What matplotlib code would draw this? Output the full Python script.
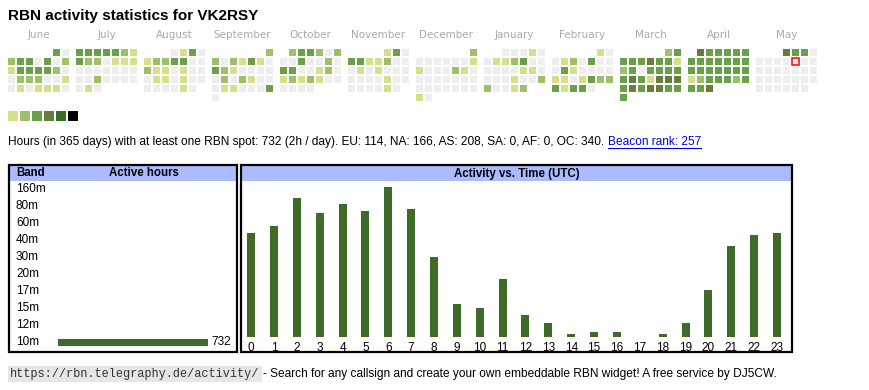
import calendar
import datetime as dt
import matplotlib
matplotlib.use("Agg")
import matplotlib.pyplot as plt
from matplotlib.patches import Rectangle
from matplotlib.lines import Line2D
from matplotlib.transforms import blended_transform_factory

W, H = 870, 390

callsign = "VK2RSY"

# calendar: one list of activity levels (0 = none) per month, day 1 first
months = [(2024, 6), (2024, 7), (2024, 8), (2024, 9), (2024, 10), (2024, 11),
          (2024, 12), (2025, 1), (2025, 2), (2025, 3), (2025, 4), (2025, 5)]
month_names = ["June", "July", "August", "September", "October", "November",
               "December", "January", "February", "March", "April", "May"]
jun = [3, 0, 2, 3, 3, 0, 3, 0, 2, 1, 3, 3, 3, 3, 2, 0, 0, 2, 2, 2, 0, 0, 1, 0, 1, 0, 1, 1, 1, 0]
jul = [3, 3, 3, 3, 3, 2, 1, 3, 2, 2, 0, 1, 1, 1, 0, 0, 0, 0, 0, 0, 0, 0, 0, 2, 0, 0, 0, 0, 0, 1, 0]
aug = [0, 1, 3, 0, 1, 2, 2, 3, 3, 0, 0, 2, 1, 1, 0, 1, 0, 0, 0, 1, 1, 0, 1, 0, 0, 0, 0, 0, 0, 1, 0]
sep = [2, 2, 0, 2, 1, 3, 1, 0, 3, 2, 1, 0, 0, 0, 0, 0, 2, 0, 2, 1, 0, 0, 0, 1, 1, 0, 0, 0, 3, 0]
oct_ = [2, 3, 3, 2, 0, 2, 0, 0, 3, 0, 0, 2, 0, 3, 3, 0, 0, 1, 2, 0, 1, 2, 1, 2, 1, 0, 0, 0, 0, 0, 0]
nov = [1, 3, 0, 3, 3, 1, 1, 2, 0, 0, 0, 1, 0, 1, 0, 0, 0, 0, 0, 0, 0, 1, 0, 0, 0, 0, 0, 0, 1, 0]
dec = [2, 0, 0, 0, 0, 0, 0, 1, 1, 0, 0, 0, 2, 1, 0, 0, 0, 0, 0, 0, 0, 0, 0, 0, 0, 0, 0, 0, 0, 1, 0]
jan = [0, 0, 0, 1, 0, 0, 1, 1, 2, 3, 0, 0, 0, 0, 0, 0, 1, 1, 0, 0, 0, 0, 1, 0, 0, 2, 2, 0, 0, 1, 2]
feb = [1, 0, 0, 1, 2, 0, 3, 0, 0, 0, 3, 1, 0, 0, 0, 0, 1, 1, 0, 1, 3, 2, 2, 3, 1, 3, 3, 0]
mar = [2, 3, 3, 3, 3, 4, 3, 3, 1, 2, 3, 0, 3, 3, 3, 3, 3, 4, 3, 1, 4, 4, 4, 3, 4, 3, 4, 4, 3, 3, 3]
apr = [4, 3, 3, 3, 3, 3, 3, 3, 3, 3, 3, 3, 3, 3, 3, 3, 3, 3, 3, 3, 1, 2, 3, 3, 3, 2, 3, 3, 3, 4]
may = [4, 3, 3, 0, 0, 0, 0, 0, 0, 0, 0, 0, 0, 0, 0, 0, 0, 0, 0, 0, 0, 0, 0, 0, 0, 0, 0, 0, 0, 0, 0]
day_levels = [jun, jul, aug, sep, oct_, nov, dec, jan, feb, mar, apr, may]
today = dt.date(2025, 5, 9)

level_colors = ["#eeeeee", "#d6e08a", "#9dc069", "#69a048", "#687c3c", "#3e6a2a", "#000000"]

summary = ("Hours (in 365 days) with at least one RBN spot: 732 (2h / day). "
           "EU: 114, NA: 166, AS: 208, SA: 0, AF: 0, OC: 340.")
rank_text = "Beacon rank: 257"

bands = ["160m", "80m", "60m", "40m", "30m", "20m", "17m", "15m", "12m", "10m"]
band_hours = [0, 0, 0, 0, 0, 0, 0, 0, 0, 732]

hours = list(range(24))
hour_counts = [47, 50, 63, 56, 60, 57, 68, 58, 36, 15, 13, 26, 10, 6, 1, 2, 2, 0, 1, 6, 21, 41, 46, 47]

bar_color = "#3e6a2a"
head_color = "#aabbff"
sans = "Liberation Sans"

fig = plt.figure(figsize=(W / 100, H / 100), dpi=100)


def px_axes(x0, y0, x1, y1):
    # place an axes using pixel coords measured from top-left
    return fig.add_axes([x0 / W, 1 - y1 / H, (x1 - x0) / W, (y1 - y0) / H])


def fig_rect(x0, y0, x1, y1, **kw):
    r = Rectangle((x0 / W, 1 - y1 / H), (x1 - x0) / W, (y1 - y0) / H,
                  transform=fig.transFigure, **kw)
    fig.patches.append(r)
    return r


def fx(x):
    return x / W


def fy(y):
    return 1 - y / H


fig.text(fx(8), fy(16), f"RBN activity statistics for {callsign}", fontsize=11,
         fontweight="bold", family=sans, va="center")

# calendar heatmap, 9px per cell, 68px per month block
cal = px_axes(8, 49, 818, 103)
cal.set_xlim(0, 90)
cal.set_ylim(6, 0)
cal.axis("off")
stride = 68 / 9
for m, ((yr, mo), levels) in enumerate(zip(months, day_levels)):
    first = calendar.monthrange(yr, mo)[0]
    for d, lv in enumerate(levels):
        pos = d + first
        col, row = pos % 7, pos // 7
        is_today = dt.date(yr, mo, d + 1) == today
        cal.add_patch(Rectangle((m * stride + col, row), 7 / 9, 7 / 9,
                                facecolor=level_colors[lv],
                                edgecolor="red" if is_today else "none",
                                linewidth=1.1))
    cal.text(m * stride + 61 / 18, -1.6, month_names[m], ha="center", va="center",
             fontsize=7.5, color="#aaaaaa", clip_on=False)

# legend
leg = px_axes(8, 111, 80, 121)
leg.set_xlim(0, 6)
leg.set_ylim(1, 0)
leg.axis("off")
for i, c in enumerate(level_colors[1:]):
    leg.add_patch(Rectangle((i, 0), 10 / 12, 1, facecolor=c, edgecolor="none"))

# summary line with link
t = fig.text(fx(8), fy(142), summary, fontsize=8.6, family=sans, va="center")
r = fig.canvas.get_renderer()
bb = t.get_window_extent(r)
lx = bb.x1 / W + fx(4)
lt = fig.text(lx, fy(142), rank_text, fontsize=8.6, family=sans, va="center", color="#0000ee")
lb = lt.get_window_extent(r)
fig.add_artist(Line2D([lb.x0 / W, lb.x1 / W], [fy(148), fy(148)], transform=fig.transFigure,
                      color="#0000ee", lw=0.8))

# band table
fig_rect(10, 166, 236, 181, facecolor=head_color, edgecolor="none")
fig_rect(9, 165, 237, 352, fill=False, edgecolor="black", lw=1.6)
fig.text(fx(16), fy(173.5), "Band", fontsize=8.3, fontweight="bold", family=sans, va="center")
fig.text(fx(144), fy(173.5), "Active hours", fontsize=8.3, fontweight="bold", family=sans,
         va="center", ha="center")
bax = px_axes(58, 180.5, 208, 350.5)
bax.set_xlim(0, max(band_hours))
bax.set_ylim(len(bands) - 0.5, -0.5)
bax.axis("off")
bax.barh(range(len(bands)), band_hours, height=7 / 17, color=bar_color)
tr = blended_transform_factory(fig.transFigure, bax.transData)
for i, (b, v) in enumerate(zip(bands, band_hours)):
    bax.text(fx(16), i, b, transform=tr, fontsize=8.5, family=sans, va="center")
    if v > 0:
        bax.annotate(str(v), (v, i), xytext=(2.5, 0), textcoords="offset points",
                     fontsize=8.5, family=sans, va="center")

# activity vs time
fig_rect(242, 166, 791, 181, facecolor=head_color, edgecolor="none")
fig_rect(241, 165, 792, 352, fill=False, edgecolor="black", lw=1.6)
fig.text(fx(516.5), fy(173.5), "Activity vs. Time (UTC)", fontsize=8.3, fontweight="bold",
         family=sans, va="center", ha="center")
ax = px_axes(239.6, 186.7, 788.5, 336.7)
ax.set_facecolor("none")
ax.bar(hours, hour_counts, width=0.35, color=bar_color)
ax.set_xlim(-0.5, 23.5)
ax.set_ylim(0, max(hour_counts))
ax.set_xticks(hours)
ax.set_xticklabels([str(h) for h in hours], fontsize=8.5, family=sans)
ax.tick_params(axis="x", length=0, pad=3.5)
ax.set_yticks([])
for s in ax.spines.values():
    s.set_visible(False)

# footer
u = fig.text(fx(10), fy(374), "https://rbn.telegraphy.de/activity/", fontsize=8.6,
             family="Liberation Mono", color="#333333", va="center",
             bbox=dict(boxstyle="square,pad=0.2", fc="#e6e6e6", ec="none"))
ub = u.get_window_extent(r)
fig.text(ub.x1 / W + fx(4), fy(374),
         "- Search for any callsign and create your own embeddable RBN widget! A free service by DJ5CW.",
         fontsize=8.6, family=sans, va="center")

fig.savefig("out.png", dpi=100)
